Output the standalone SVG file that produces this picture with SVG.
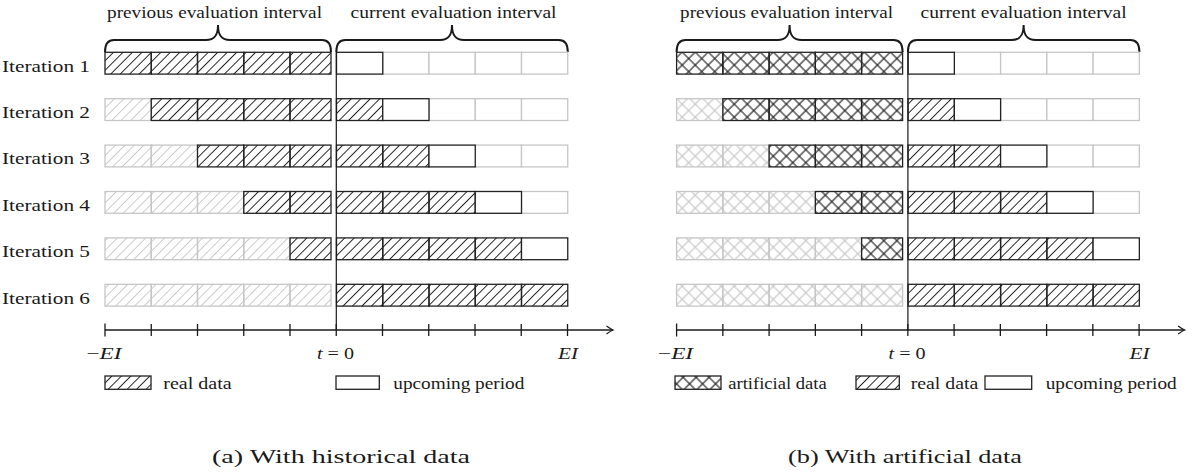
<svg xmlns="http://www.w3.org/2000/svg" width="1200" height="476" viewBox="0 0 1200 476">
  <defs>
    <style>
      text { font-family: 'Liberation Serif', 'Times New Roman', serif; font-size: 16px; fill: #1a1a1a; }
      .cap { font-size: 19px; }
      .it { font-style: italic; }
      .bh { fill: url(#hatch); stroke: #222; stroke-width: 1.3; }
      .bx { fill: url(#cross); stroke: #222; stroke-width: 1.3; }
      .bw { fill: #fff; stroke: #222; stroke-width: 1.3; }
      .gh { fill: url(#hatchGrey); stroke: #c6c6c6; stroke-width: 1.3; }
      .gx { fill: url(#crossGrey); stroke: #c6c6c6; stroke-width: 1.3; }
      .ge { fill: #fff; stroke: #c6c6c6; stroke-width: 1.3; }
      .brace { fill: none; stroke: #1a1a1a; stroke-width: 2; }
      .axis { fill: none; stroke: #1a1a1a; stroke-width: 1.3; }
      .zero { fill: none; stroke: #1a1a1a; stroke-width: 1.2; }
    </style>
    <!-- single diagonal hatching -->
    <pattern id="hatch" patternUnits="userSpaceOnUse" width="6.7" height="6.7" patternTransform="rotate(45)">
      <line x1="3.35" y1="-1" x2="3.35" y2="8" stroke="#222" stroke-width="1"/>
    </pattern>
    <pattern id="hatchGrey" patternUnits="userSpaceOnUse" width="6.7" height="6.7" patternTransform="rotate(45)">
      <line x1="3.35" y1="-1" x2="3.35" y2="8" stroke="#cacaca" stroke-width="1"/>
    </pattern>
    <!-- diamond cross-hatching -->
    <pattern id="cross" patternUnits="userSpaceOnUse" width="9.2" height="9.2" patternTransform="rotate(45)">
      <line x1="4.6" y1="-1" x2="4.6" y2="10.2" stroke="#1a1a1a" stroke-width="1.1"/>
      <line x1="-1" y1="4.6" x2="10.2" y2="4.6" stroke="#1a1a1a" stroke-width="1.1"/>
    </pattern>
    <pattern id="crossGrey" patternUnits="userSpaceOnUse" width="9.2" height="9.2" patternTransform="rotate(45)">
      <line x1="4.6" y1="-1" x2="4.6" y2="10.2" stroke="#c4c4c4" stroke-width="1.1"/>
      <line x1="-1" y1="4.6" x2="10.2" y2="4.6" stroke="#c4c4c4" stroke-width="1.1"/>
    </pattern>
    <marker id="arr" markerUnits="userSpaceOnUse" viewBox="-8 -5 10 10" refX="0" refY="0" markerWidth="10" markerHeight="10" orient="auto">
      <path d="M -6.5 -4 Q -2 -0.8 0 0 Q -2 0.8 -6.5 4" fill="none" stroke="#1a1a1a" stroke-width="1.3"/>
    </marker>
    <!-- evaluation interval braces -->
    <path id="bracePrev" class="brace" d="M 105 52 C 105 45 107 40 114 40 L 206 40 C 214 40 218 36 218 25 C 218 36 222 40 230 40 L 322 40 C 329 40 331 45 331 52"/>
    <path id="braceCurr" class="brace" d="M 336.3 52 C 336.3 45 338.3 40 345.3 40 L 440 40 C 448 40 452 36 452 25 C 452 36 456 40 464 40 L 558.8 40 C 565.8 40 567.8 45 567.8 52"/>
    <!-- time axis with ticks -->
    <g id="timeAxis">
      <line class="axis" x1="105" y1="330" x2="613" y2="330" marker-end="url(#arr)"/>
      <path class="axis" d="M105 323.5 V336.5 M151.25 324 V336 M197.5 324 V336 M243.75 324 V336 M290 324 V336 M336.25 324 V336 M382.5 324 V336 M428.75 324 V336 M475 324 V336 M521.25 324 V336 M567.5 324 V336"/>
      <text x="104" y="359" text-anchor="middle" textLength="35" lengthAdjust="spacingAndGlyphs">−<tspan class="it">EI</tspan></text>
      <text x="335.5" y="359" text-anchor="middle" textLength="37" lengthAdjust="spacingAndGlyphs"><tspan class="it">t</tspan> = 0</text>
      <text x="568" y="359" text-anchor="middle" textLength="20" lengthAdjust="spacingAndGlyphs" class="it">EI</text>
    </g>
  </defs>

  <!-- (a) With historical data -->
  <g id="panel-a">
    <g id="a-labels">
      <text x="214.5" y="17.5" text-anchor="middle" textLength="215" lengthAdjust="spacingAndGlyphs">previous evaluation interval</text>
      <text x="453.5" y="17.5" text-anchor="middle" textLength="206" lengthAdjust="spacingAndGlyphs">current evaluation interval</text>
      <use href="#bracePrev"/>
      <use href="#braceCurr"/>
    </g>
    <g id="iteration-labels">
      <text x="2" y="71.6" textLength="88" lengthAdjust="spacingAndGlyphs">Iteration 1</text>
      <text x="2" y="118" textLength="88" lengthAdjust="spacingAndGlyphs">Iteration 2</text>
      <text x="2" y="164.4" textLength="88" lengthAdjust="spacingAndGlyphs">Iteration 3</text>
      <text x="2" y="210.8" textLength="88" lengthAdjust="spacingAndGlyphs">Iteration 4</text>
      <text x="2" y="257.2" textLength="88" lengthAdjust="spacingAndGlyphs">Iteration 5</text>
      <text x="2" y="303.6" textLength="88" lengthAdjust="spacingAndGlyphs">Iteration 6</text>
    </g>
    <g id="a-row1">
      <rect class="ge" x="382.75" y="52.3" width="46.25" height="21.8"/>
      <rect class="ge" x="429" y="52.3" width="46.25" height="21.8"/>
      <rect class="ge" x="475.25" y="52.3" width="46.25" height="21.8"/>
      <rect class="ge" x="521.5" y="52.3" width="46.25" height="21.8"/>
      <rect class="bh" x="105" y="52.3" width="46.25" height="21.8"/>
      <rect class="bh" x="151.25" y="52.3" width="46.25" height="21.8"/>
      <rect class="bh" x="197.5" y="52.3" width="46.25" height="21.8"/>
      <rect class="bh" x="243.75" y="52.3" width="46.25" height="21.8"/>
      <rect class="bh" x="290" y="52.3" width="41" height="21.8"/>
      <rect class="bw" x="336.5" y="52.3" width="46.25" height="21.8"/>
    </g>
    <g id="a-row2">
      <rect class="gh" x="105" y="98.7" width="46.25" height="21.8"/>
      <rect class="ge" x="429" y="98.7" width="46.25" height="21.8"/>
      <rect class="ge" x="475.25" y="98.7" width="46.25" height="21.8"/>
      <rect class="ge" x="521.5" y="98.7" width="46.25" height="21.8"/>
      <rect class="bh" x="151.25" y="98.7" width="46.25" height="21.8"/>
      <rect class="bh" x="197.5" y="98.7" width="46.25" height="21.8"/>
      <rect class="bh" x="243.75" y="98.7" width="46.25" height="21.8"/>
      <rect class="bh" x="290" y="98.7" width="41" height="21.8"/>
      <rect class="bh" x="336.5" y="98.7" width="46.25" height="21.8"/>
      <rect class="bw" x="382.75" y="98.7" width="46.25" height="21.8"/>
    </g>
    <g id="a-row3">
      <rect class="gh" x="105" y="145.1" width="46.25" height="21.8"/>
      <rect class="gh" x="151.25" y="145.1" width="46.25" height="21.8"/>
      <rect class="ge" x="475.25" y="145.1" width="46.25" height="21.8"/>
      <rect class="ge" x="521.5" y="145.1" width="46.25" height="21.8"/>
      <rect class="bh" x="197.5" y="145.1" width="46.25" height="21.8"/>
      <rect class="bh" x="243.75" y="145.1" width="46.25" height="21.8"/>
      <rect class="bh" x="290" y="145.1" width="41" height="21.8"/>
      <rect class="bh" x="336.5" y="145.1" width="46.25" height="21.8"/>
      <rect class="bh" x="382.75" y="145.1" width="46.25" height="21.8"/>
      <rect class="bw" x="429" y="145.1" width="46.25" height="21.8"/>
    </g>
    <g id="a-row4">
      <rect class="gh" x="105" y="191.5" width="46.25" height="21.8"/>
      <rect class="gh" x="151.25" y="191.5" width="46.25" height="21.8"/>
      <rect class="gh" x="197.5" y="191.5" width="46.25" height="21.8"/>
      <rect class="ge" x="521.5" y="191.5" width="46.25" height="21.8"/>
      <rect class="bh" x="243.75" y="191.5" width="46.25" height="21.8"/>
      <rect class="bh" x="290" y="191.5" width="41" height="21.8"/>
      <rect class="bh" x="336.5" y="191.5" width="46.25" height="21.8"/>
      <rect class="bh" x="382.75" y="191.5" width="46.25" height="21.8"/>
      <rect class="bh" x="429" y="191.5" width="46.25" height="21.8"/>
      <rect class="bw" x="475.25" y="191.5" width="46.25" height="21.8"/>
    </g>
    <g id="a-row5">
      <rect class="gh" x="105" y="237.9" width="46.25" height="21.8"/>
      <rect class="gh" x="151.25" y="237.9" width="46.25" height="21.8"/>
      <rect class="gh" x="197.5" y="237.9" width="46.25" height="21.8"/>
      <rect class="gh" x="243.75" y="237.9" width="46.25" height="21.8"/>
      <rect class="bh" x="290" y="237.9" width="41" height="21.8"/>
      <rect class="bh" x="336.5" y="237.9" width="46.25" height="21.8"/>
      <rect class="bh" x="382.75" y="237.9" width="46.25" height="21.8"/>
      <rect class="bh" x="429" y="237.9" width="46.25" height="21.8"/>
      <rect class="bh" x="475.25" y="237.9" width="46.25" height="21.8"/>
      <rect class="bw" x="521.5" y="237.9" width="46.25" height="21.8"/>
    </g>
    <g id="a-row6">
      <rect class="gh" x="105" y="284.3" width="46.25" height="21.8"/>
      <rect class="gh" x="151.25" y="284.3" width="46.25" height="21.8"/>
      <rect class="gh" x="197.5" y="284.3" width="46.25" height="21.8"/>
      <rect class="gh" x="243.75" y="284.3" width="46.25" height="21.8"/>
      <rect class="gh" x="290" y="284.3" width="41" height="21.8"/>
      <rect class="bh" x="336.5" y="284.3" width="46.25" height="21.8"/>
      <rect class="bh" x="382.75" y="284.3" width="46.25" height="21.8"/>
      <rect class="bh" x="429" y="284.3" width="46.25" height="21.8"/>
      <rect class="bh" x="475.25" y="284.3" width="46.25" height="21.8"/>
      <rect class="bh" x="521.5" y="284.3" width="46.25" height="21.8"/>
    </g>
    <g id="a-connectors">
      <line class="zero" x1="336.3" y1="52" x2="336.3" y2="330"/>
      <use href="#timeAxis"/>
    </g>
    <g id="a-legend">
      <rect class="bh" x="105" y="376" width="46" height="13.3"/>
      <text x="163.3" y="388.5" textLength="68.4" lengthAdjust="spacingAndGlyphs">real data</text>
      <rect class="bw" x="336" y="376" width="43.3" height="13.3"/>
      <text x="393.3" y="388.5" textLength="131" lengthAdjust="spacingAndGlyphs">upcoming period</text>
    </g>
    <text class="cap" x="212" y="463" textLength="258" lengthAdjust="spacingAndGlyphs">(a) With historical data</text>
  </g>

  <!-- (b) With artificial data -->
  <g id="panel-b">
    <g transform="translate(571.6 0)">
      <g id="b-labels">
        <text x="215" y="17.5" text-anchor="middle" textLength="213" lengthAdjust="spacingAndGlyphs">previous evaluation interval</text>
        <text x="452" y="17.5" text-anchor="middle" textLength="206" lengthAdjust="spacingAndGlyphs">current evaluation interval</text>
        <use href="#bracePrev"/>
        <use href="#braceCurr"/>
      </g>
      <g id="b-row1">
        <rect class="ge" x="382.75" y="52.3" width="46.25" height="21.8"/>
        <rect class="ge" x="429" y="52.3" width="46.25" height="21.8"/>
        <rect class="ge" x="475.25" y="52.3" width="46.25" height="21.8"/>
        <rect class="ge" x="521.5" y="52.3" width="46.25" height="21.8"/>
        <rect class="bx" x="105" y="52.3" width="46.25" height="21.8"/>
        <rect class="bx" x="151.25" y="52.3" width="46.25" height="21.8"/>
        <rect class="bx" x="197.5" y="52.3" width="46.25" height="21.8"/>
        <rect class="bx" x="243.75" y="52.3" width="46.25" height="21.8"/>
        <rect class="bx" x="290" y="52.3" width="41" height="21.8"/>
        <rect class="bw" x="336.5" y="52.3" width="46.25" height="21.8"/>
      </g>
      <g id="b-row2">
        <rect class="gx" x="105" y="98.7" width="46.25" height="21.8"/>
        <rect class="ge" x="429" y="98.7" width="46.25" height="21.8"/>
        <rect class="ge" x="475.25" y="98.7" width="46.25" height="21.8"/>
        <rect class="ge" x="521.5" y="98.7" width="46.25" height="21.8"/>
        <rect class="bx" x="151.25" y="98.7" width="46.25" height="21.8"/>
        <rect class="bx" x="197.5" y="98.7" width="46.25" height="21.8"/>
        <rect class="bx" x="243.75" y="98.7" width="46.25" height="21.8"/>
        <rect class="bx" x="290" y="98.7" width="41" height="21.8"/>
        <rect class="bh" x="336.5" y="98.7" width="46.25" height="21.8"/>
        <rect class="bw" x="382.75" y="98.7" width="46.25" height="21.8"/>
      </g>
      <g id="b-row3">
        <rect class="gx" x="105" y="145.1" width="46.25" height="21.8"/>
        <rect class="gx" x="151.25" y="145.1" width="46.25" height="21.8"/>
        <rect class="ge" x="475.25" y="145.1" width="46.25" height="21.8"/>
        <rect class="ge" x="521.5" y="145.1" width="46.25" height="21.8"/>
        <rect class="bx" x="197.5" y="145.1" width="46.25" height="21.8"/>
        <rect class="bx" x="243.75" y="145.1" width="46.25" height="21.8"/>
        <rect class="bx" x="290" y="145.1" width="41" height="21.8"/>
        <rect class="bh" x="336.5" y="145.1" width="46.25" height="21.8"/>
        <rect class="bh" x="382.75" y="145.1" width="46.25" height="21.8"/>
        <rect class="bw" x="429" y="145.1" width="46.25" height="21.8"/>
      </g>
      <g id="b-row4">
        <rect class="gx" x="105" y="191.5" width="46.25" height="21.8"/>
        <rect class="gx" x="151.25" y="191.5" width="46.25" height="21.8"/>
        <rect class="gx" x="197.5" y="191.5" width="46.25" height="21.8"/>
        <rect class="ge" x="521.5" y="191.5" width="46.25" height="21.8"/>
        <rect class="bx" x="243.75" y="191.5" width="46.25" height="21.8"/>
        <rect class="bx" x="290" y="191.5" width="41" height="21.8"/>
        <rect class="bh" x="336.5" y="191.5" width="46.25" height="21.8"/>
        <rect class="bh" x="382.75" y="191.5" width="46.25" height="21.8"/>
        <rect class="bh" x="429" y="191.5" width="46.25" height="21.8"/>
        <rect class="bw" x="475.25" y="191.5" width="46.25" height="21.8"/>
      </g>
      <g id="b-row5">
        <rect class="gx" x="105" y="237.9" width="46.25" height="21.8"/>
        <rect class="gx" x="151.25" y="237.9" width="46.25" height="21.8"/>
        <rect class="gx" x="197.5" y="237.9" width="46.25" height="21.8"/>
        <rect class="gx" x="243.75" y="237.9" width="46.25" height="21.8"/>
        <rect class="bx" x="290" y="237.9" width="41" height="21.8"/>
        <rect class="bh" x="336.5" y="237.9" width="46.25" height="21.8"/>
        <rect class="bh" x="382.75" y="237.9" width="46.25" height="21.8"/>
        <rect class="bh" x="429" y="237.9" width="46.25" height="21.8"/>
        <rect class="bh" x="475.25" y="237.9" width="46.25" height="21.8"/>
        <rect class="bw" x="521.5" y="237.9" width="46.25" height="21.8"/>
      </g>
      <g id="b-row6">
        <rect class="gx" x="105" y="284.3" width="46.25" height="21.8"/>
        <rect class="gx" x="151.25" y="284.3" width="46.25" height="21.8"/>
        <rect class="gx" x="197.5" y="284.3" width="46.25" height="21.8"/>
        <rect class="gx" x="243.75" y="284.3" width="46.25" height="21.8"/>
        <rect class="gx" x="290" y="284.3" width="41" height="21.8"/>
        <rect class="bh" x="336.5" y="284.3" width="46.25" height="21.8"/>
        <rect class="bh" x="382.75" y="284.3" width="46.25" height="21.8"/>
        <rect class="bh" x="429" y="284.3" width="46.25" height="21.8"/>
        <rect class="bh" x="475.25" y="284.3" width="46.25" height="21.8"/>
        <rect class="bh" x="521.5" y="284.3" width="46.25" height="21.8"/>
      </g>
      <g id="b-connectors">
        <line class="zero" x1="336.3" y1="52" x2="336.3" y2="330"/>
        <use href="#timeAxis"/>
      </g>
    </g>
    <g id="b-legend">
      <rect class="bx" x="675" y="376" width="46" height="13.3"/>
      <text x="728.3" y="388.5" textLength="98.4" lengthAdjust="spacingAndGlyphs">artificial data</text>
      <rect class="bh" x="856" y="376" width="43.3" height="13.3"/>
      <text x="910.7" y="388.5" textLength="67.6" lengthAdjust="spacingAndGlyphs">real data</text>
      <rect class="bw" x="985" y="376" width="46.7" height="13.3"/>
      <text x="1045.7" y="388.5" textLength="131" lengthAdjust="spacingAndGlyphs">upcoming period</text>
    </g>
    <text class="cap" x="788" y="463" textLength="234" lengthAdjust="spacingAndGlyphs">(b) With artificial data</text>
  </g>
</svg>
